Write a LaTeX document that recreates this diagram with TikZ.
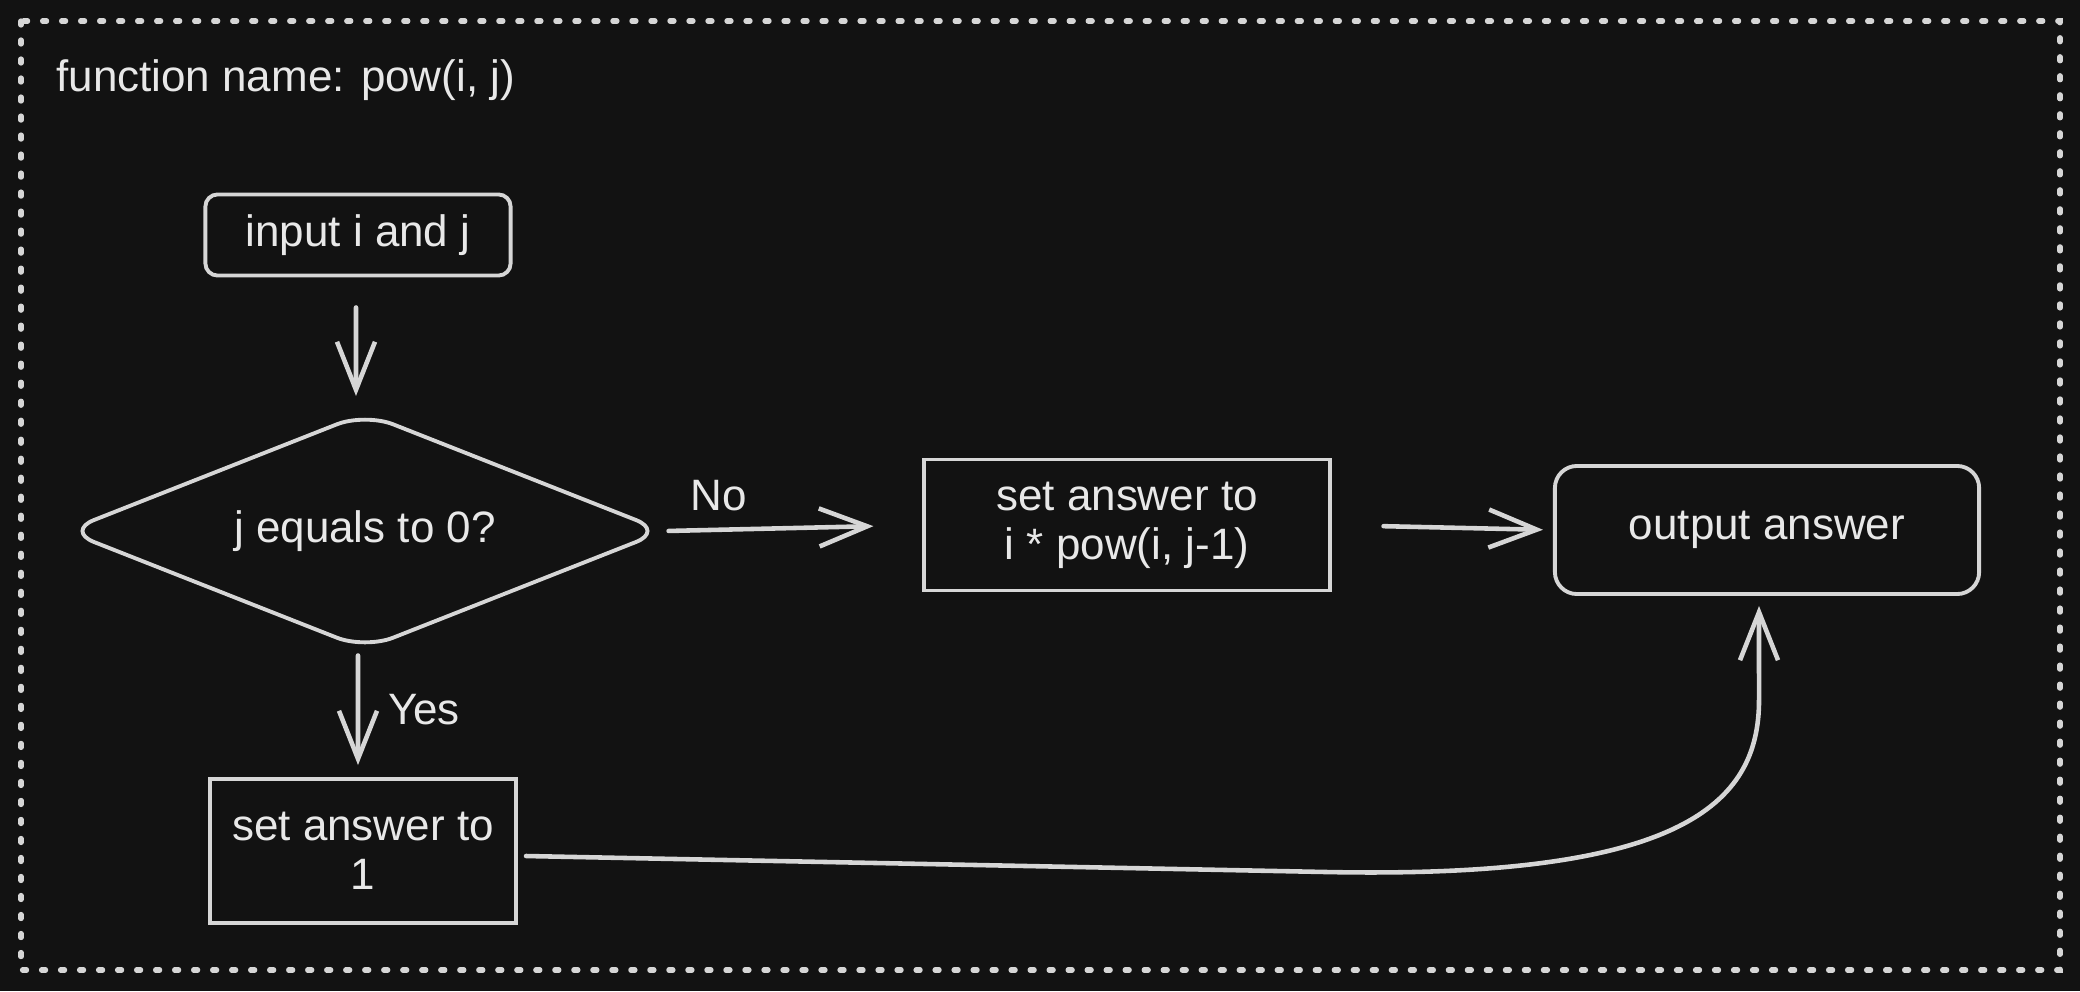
\documentclass[tikz,border=0pt]{standalone}
\usepackage{fontspec}
\setmainfont{Liberation Sans}
\usetikzlibrary{shapes.geometric,arrows.meta,calc}
\definecolor{bg}{HTML}{121212}
\definecolor{ink}{HTML}{D6D6D6}
\definecolor{txt}{HTML}{E8E8E8}
\begin{document}
\begin{tikzpicture}[x=0.01cm,y=-0.01cm,
  every node/.style={text=txt,font=\fontsize{12.5}{14}\selectfont},
  boxnode/.style={draw=ink,line width=1.1pt,align=center,inner sep=0pt},
  roundbox/.style={boxnode,rounded corners=1.2mm},
  decnode/.style={draw=ink,line width=1.1pt,diamond,aspect=2.53,inner sep=0pt,rounded corners=3mm},
  arr/.style={draw=ink,line width=1.3pt,line cap=round,-{Straight Barb[length=4.8mm,width=3.8mm,line width=1.3pt]}},
  lbl/.style={text=txt}]
\fill[bg] (0,0) rectangle (2080,991);
\useasboundingbox (0,0) rectangle (2080,991);
\draw[ink,line width=1.5pt,line cap=round,dash pattern=on 0.4mm off 1.5mm] (21,21) rectangle (2060,970);
\node[anchor=west] (title) at (44,80) {function name: pow(i, j)};
\node[roundbox,minimum width=3.05cm,minimum height=0.81cm] (in) at (358,235) {input i and j};
\node[decnode,minimum width=5.99cm,minimum height=2.37cm] (dec) at (365,531) {j equals to 0?};
\node[boxnode,minimum width=4.05cm,minimum height=1.31cm] (b2) at (1127,525) {set answer to\\ i * pow(i, j-1)};
\node[roundbox,rounded corners=2.2mm,minimum width=4.24cm,minimum height=1.28cm] (out) at (1767,530) {output answer};
\node[boxnode,minimum width=3.06cm,minimum height=1.44cm] (b3) at (363,851) {set answer to\\ 1};
\draw[arr,shorten <=3mm,shorten >=1.45mm] ([xshift=-0.2mm]in.south) -- ([xshift=-0.9mm]dec.north);
\draw[arr,shorten <=0.2mm,shorten >=4.9mm] (dec.east) -- (b2.west);
\node[lbl] (no) at (719,496) {No};
\draw[arr,shorten <=5.2mm,shorten >=1mm] (b2.east) -- (out.west);
\draw[arr,shorten <=0.4mm,shorten >=1.2mm] ([xshift=-0.7mm]dec.south) -- ([xshift=-0.5mm]b3.north);
\node[lbl] (yes) at (424,710) {Yes};
\draw[arr] ($(b3.east)+(0.8mm,-0.5mm)$) -- (1326,872) .. controls (1680,879) and (1759,805) .. (1759,700) -- ($(out.south)+(-0.8mm,-1mm)$);
\end{tikzpicture}
\end{document}
